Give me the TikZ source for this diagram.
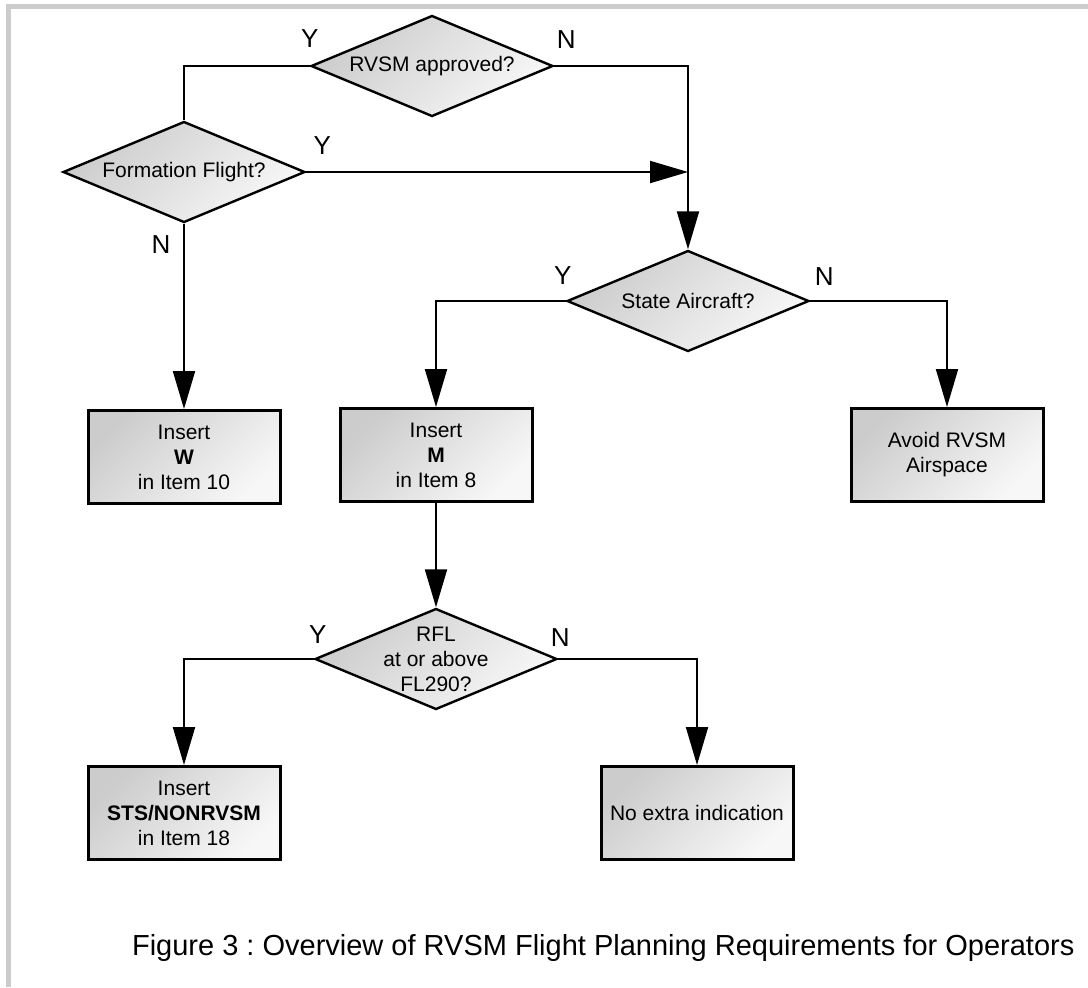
\documentclass[tikz,border=0pt]{standalone}
\usepackage{fontspec}
\setmainfont{Liberation Sans}
\usetikzlibrary{shapes.geometric,arrows.meta}
\frenchspacing
\begin{document}
\begin{tikzpicture}[x=0.5pt, y=-0.5pt, >={Triangle[length=19pt,width=11pt]},
    line/.style={line width=1pt},
    decision/.style={diamond, draw, line width=1.2pt, top color=black!20, bottom color=black!3, shading angle=45, minimum width=121pt, minimum height=50.5pt, inner sep=0pt},
    dtext/.style={font=\fontsize{10.5}{12.5}\selectfont, align=center, inner sep=0pt},
    block/.style={rectangle, draw, line width=1.5pt, top color=black!20, bottom color=black!3, shading angle=45, minimum width=96pt, minimum height=46.5pt, inner sep=0pt, font=\fontsize{10.5}{12.5}\selectfont, align=center},
    yn/.style={font=\fontsize{13}{15}\selectfont, inner sep=0pt}]
    \useasboundingbox (0,0) rectangle (1088,987);
    % grey frame, top and left
    \fill[black!20] (6,4) rectangle (1088,9);
    \fill[black!20] (6,4) rectangle (11,987);

    \node[decision, label={[dtext]center:RVSM approved?}] (rvsm) at (432,66) {};
    \node[decision, label={[dtext]center:Formation Flight?}] (form) at (184,172) {};
    \node[decision, label={[dtext]center:State Aircraft?}] (state) at (688,301) {};
    \node[decision, label={[dtext]center:RFL\\at or above\\FL290?}] (rfl) at (436,659) {};

    \node[block] (wbox) at (184,457) {Insert\\\textbf{W}\\in Item 10};
    \node[block] (mbox) at (436,455) {Insert\\\textbf{M}\\in Item 8};
    \node[block] (avoid) at (947,455) {Avoid RVSM\\Airspace};
    \node[block] (sts) at (184,813) {Insert\\\textbf{STS/NONRVSM}\\in Item 18};
    \node[block] (noext) at (697,813) {No extra indication};

    \coordinate (join) at (state.north |- form.east);
    \draw[line] (rvsm.west) node[yn, above=8.8pt] {Y} -| (form.north);
    \draw[line, ->] (rvsm.east) node[yn, above=8.5pt, xshift=6pt] {N} -| (state.north);
    \draw[line, ->] (form.east) node[yn, above=8.3pt, xshift=8pt] {Y} -- (join);
    \draw[line, ->] (form.south) node[yn, below=5.3pt, xshift=-11.5pt] {N} -- (wbox.north);
    \draw[line, ->] (state.west) node[yn, above=7.8pt, xshift=-1.5pt] {Y} -| (mbox.north);
    \draw[line, ->] (state.east) node[yn, above=7.4pt, xshift=7pt] {N} -| (avoid.north);
    \draw[line, ->] (mbox.south) -- (rfl.north);
    \draw[line, ->] (rfl.west) node[yn, above=7.4pt, xshift=2pt] {Y} -| (sts.north);
    \draw[line, ->] (rfl.east) node[yn, above=6pt, xshift=1pt] {N} -| (noext.north);

    \node[anchor=base west, font=\fontsize{14.5}{17}\selectfont] (caption) at (125,955) {Figure 3 : Overview of RVSM Flight Planning Requirements for Operators};
\end{tikzpicture}
\end{document}
